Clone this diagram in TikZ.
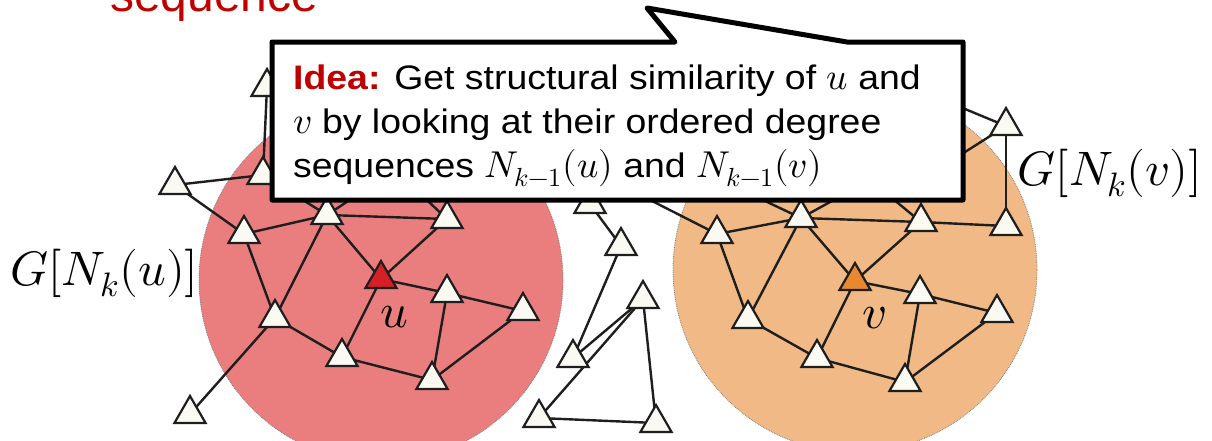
\documentclass[tikz,border=0pt]{standalone}
\usepackage{fontspec}
\usepackage{unicode-math}
\setmainfont{Liberation Sans}
\setmathfont{Latin Modern Math}[Scale=1.1]
\newfontfamily\calloutfont[FakeStretch=1.10]{Liberation Sans}
\usetikzlibrary{shapes.geometric}
\pgfdeclarelayer{bg}\pgfdeclarelayer{edges}\pgfdeclarelayer{top}
\pgfsetlayers{bg,edges,main,top}
\definecolor{ideared}{RGB}{192,0,0}
\definecolor{circred}{RGB}{234,125,125}
\definecolor{circorange}{RGB}{240,185,133}
\definecolor{trifill}{RGB}{250,250,243}
\definecolor{ink}{RGB}{30,30,30}
\definecolor{ured}{RGB}{212,32,38}
\definecolor{vorange}{RGB}{232,137,47}
\tikzset{
  tri/.style={regular polygon, regular polygon sides=3, minimum size=36pt, inner sep=0pt, draw=ink, fill=trifill, line width=2.2pt},
  edge/.style={draw=ink, line width=2.4pt},
  circ/.style={draw=gray, densely dotted, line width=0.8pt},
  calloutline/.style={font=\calloutfont\fontsize{34}{44}\selectfont, anchor=base west, inner sep=0pt},
  biglabel/.style={font=\fontsize{44}{48}\selectfont, anchor=base west, inner sep=0pt},
}
\begin{document}
\begin{tikzpicture}[x=1pt,y=-1pt]
\useasboundingbox (0,0) rectangle (1212,440);
% circles
\begin{pgfonlayer}{bg}
  \fill[circred] (381,280) circle[radius=182];
  \draw[circ] (381,280) circle[radius=182];
  \fill[circorange] (855,270) circle[radius=182];
  \draw[circ] (855,270) circle[radius=182];
\end{pgfonlayer}
% left graph
\node[tri] (ta) at (244,234) {};
\node[tri] (tb) at (327,215) {};
\node[tri, fill=ured] (u) at (381,279) {};
\node[tri] (tc) at (275,318) {};
\node[tri] (td) at (342,357) {};
\node[tri] (te) at (190,414) {};
\node[tri] (tf) at (447,219) {};
\node[tri] (tg) at (447,293) {};
\node[tri] (th) at (523,311) {};
\node[tri] (ti) at (432,380) {};
\node[tri] (tp) at (175,185) {};
\node[tri] (tq) at (263,175) {};
\node[tri] (tr) at (267,87) {};
% middle
\node[tri] (tj) at (590,204) {};
\node[tri] (tk) at (621,246) {};
\node[tri] (tl) at (643,299) {};
\node[tri] (tm) at (573,358) {};
\node[tri] (tn) at (539,418) {};
\node[tri] (to) at (656,423) {};
% right graph
\node[tri] (ra) at (717,234) {};
\node[tri] (rb) at (801,218) {};
\node[tri] (rc) at (921,222) {};
\node[tri] (rd) at (1006,226) {};
\node[tri, fill=vorange] (v) at (855,281) {};
\node[tri] (re) at (920,294) {};
\node[tri] (rf) at (997,313) {};
\node[tri] (rg) at (748,319) {};
\node[tri] (rh) at (817,358) {};
\node[tri] (ri) at (905,382) {};
\node[tri] (rt) at (1006,126) {};
% hidden ends under the callout
\coordinate (h1) at (395,170);
\coordinate (h2) at (597,173);
\coordinate (h3) at (708,174);
\coordinate (h4) at (870,180);
\coordinate (h5) at (924,92);
\coordinate (h6) at (924,178);
\begin{pgfonlayer}{edges}
  \foreach \a/\b in {ta/tb,ta/tc,tb/tc,tb/u,tc/td,tc/te,td/u,td/ti,u/tf,u/tg,tg/th,tg/ti,ti/th,tb/tf,tp/ta,tp/tq,tq/tr,tq/tb,
                     tj/tk,tk/tm,tm/tl,tn/tl,tl/to,tn/to,
                     ra/rb,ra/rg,rb/rg,rb/v,rb/rc,rc/v,rc/rd,rd/rt,v/re,v/rh,rg/rh,rh/ri,re/rf,re/ri,ri/rf}
    \draw[edge] (\a.center) -- (\b.center);
  \foreach \a/\b in {tb/h1,tf/h1,ra/h2,rb/h3,rb/h4,rc/h4,rt/h5,rt/h6}
    \draw[edge] (\a.center) -- (\b);
\end{pgfonlayer}
% labels
\node[biglabel] (lu) at (380,327) {$u$};
\node[biglabel] (lv) at (862,328) {$v$};
\node[biglabel] (gu) at (10,285) {$G[N_k(u)]$};
\node[biglabel] (gv) at (1017,185) {$G[N_k(v)]$};
\node[font=\fontsize{48}{52}\selectfont, anchor=base west, inner sep=0pt, text=ideared] (seq) at (110,11) {sequence};
% callout
\begin{pgfonlayer}{top}
  \filldraw[fill=white, draw=black, line width=5pt, line join=round]
    (272,42) -- (675,42) -- (647,8) -- (847,42) -- (963,42) -- (963,200) -- (272,200) -- cycle;
  \node[calloutline] (l1) at (293,89) {{\color{ideared}\bfseries Idea:} Get structural similarity of $u$ and};
  \node[calloutline] (l2) at (293,133) {$v$ by looking at their ordered degree};
  \node[calloutline] (l3) at (293,177) {sequences $N_{k-1}(u)$ and $N_{k-1}(v)$};
\end{pgfonlayer}
\end{tikzpicture}
\end{document}
